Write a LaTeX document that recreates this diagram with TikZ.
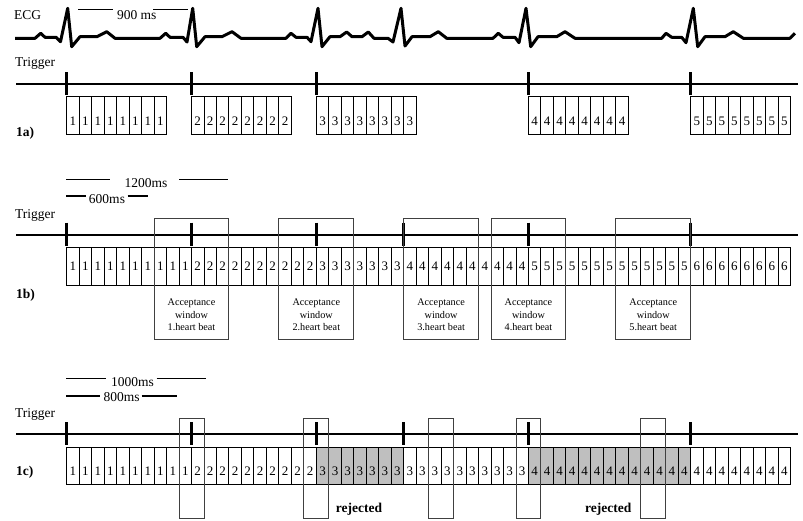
\documentclass[tikz,border=0pt]{standalone}
\usepackage{fontspec}
\setmainfont{Liberation Serif}
\usetikzlibrary{positioning}

\tikzset{
    cell/.style={draw=black, line width=0.9pt},
    tick/.style={line width=3.3pt},
    trigline/.style={line width=1.4pt},
    winbox/.style={draw=black!75, line width=0.9pt},
    bar/.style={line width=1.4pt},
    lbl/.style={font=\fontsize{13.5}{15}\selectfont, inner sep=0pt},
    digit/.style={font=\fontsize{13}{15}\selectfont, inner sep=0pt},
    wintext/.style={font=\fontsize{10.2}{12.3}\selectfont, align=center, inner sep=0pt},
}

\newcommand{\cw}{12.48}
\newcommand{\xo}{66.7}

\begin{document}
\begin{tikzpicture}[x=1pt, y=-1pt]
    \useasboundingbox (0,0) rectangle (803,521);

    % ECG
    \node[lbl, anchor=west] (ecg) at (14,15) {ECG};
    \draw[line width=3pt, line join=round] (15,38.3) -- (35,38.3) -- (40.7,33.3) -- (45,37.3) -- (56,37.3) -- (60.5,41.7)
        -- (67.7,8.3) -- (71.7,46.7) -- (80,36.7) -- (97,36.7) -- (106.7,31.7) -- (115,38.3) -- (160,38.3)
        -- (165.7,33.3) -- (170,37.3) -- (183,37.3) -- (187,42) -- (192.7,8.3) -- (196.7,46.7) -- (205,36.7)
        -- (222,36.7) -- (232,31.7) -- (241,38.3) -- (286,38.3) -- (291,33.3) -- (296,37.3) -- (307,37.3)
        -- (311,41.7) -- (318,8.3) -- (322,46.7) -- (330,36.7) -- (340,36.7) -- (346.7,32) -- (352,36.7)
        -- (362,36.7) -- (368.3,32) -- (374,38.3) -- (388,38.3) -- (393,42) -- (401,8.3) -- (405,46)
        -- (412,36.7) -- (430,36.7) -- (438.3,31.7) -- (446.7,38.3) -- (493,38.3) -- (498.3,33.3) -- (503,37.3)
        -- (515,37.3) -- (519,42.7) -- (526,8.3) -- (530.7,46.7) -- (538,36.7) -- (556.7,36.7) -- (565,31.7)
        -- (575,38.3) -- (661.7,38.3) -- (666,33.3) -- (671.7,37.3) -- (681.7,37.3) -- (686,42.7) -- (693.3,8.3)
        -- (697.7,46.7) -- (705,36.7) -- (725,36.7) -- (733.3,31.7) -- (743.3,38.3) -- (790,38.3) -- (795,33.3);
    \node[lbl] (t900) at (136.7,15) {900 ms};
    \draw[bar] (78.3,9.3) -- (113.3,9.3);
    \draw[bar] (153,9.3) -- (188,9.3);

    % 1a) Trigger line
    \node[lbl, anchor=west] (trigA) at (15,63) {Trigger};
    \draw[trigline] (16,84) -- (798,84);
    \foreach \k in {0,10,20,37,50}
        \draw[tick] ({\xo+\cw*\k},72.3) -- ({\xo+\cw*\k},95);

    % 1a) Acquisitions
    \foreach \k/\d in {0/1,10/2,20/3,37/4,50/5} {
        \foreach \i in {0,...,7} {
            \pgfmathsetmacro\xx{\xo+\cw*(\k+\i)}
            \draw[cell] (\xx,96.7) rectangle +(\cw,37.3);
            \node[digit] (a-\d-\i) at ({\xx+\cw/2},121) {\d};
        }
    }
    \node[lbl, anchor=west] (rowA) at (16,133) {\textbf{1a)}};

    % 1b) Scale
    \node[lbl] (t1200) at (146,182.7) {1200ms};
    \draw[bar] (66,179.3) -- (110,179.3);
    \draw[bar] (179,179.3) -- (228.3,179.3);
    \node[lbl] (t600) at (107,199) {600ms};
    \draw[bar] (66,196) -- (86,196);
    \draw[bar] (127.7,196) -- (148.3,196);

    % 1b) Trigger line
    \node[lbl, anchor=west] (trigB) at (15,215) {Trigger};
    \draw[trigline] (16,235) -- (798,235);
    \foreach \k in {0,10,20,27,37,50}
        \draw[tick] ({\xo+\cw*\k},222.7) -- ({\xo+\cw*\k},246);

    % 1b) Acquisitions
    \foreach \a/\n/\d in {0/10/1,10/10/2,20/7/3,27/10/4,37/13/5,50/8/6} {
        \foreach \i in {1,...,\n} {
            \pgfmathsetmacro\xx{\xo+\cw*(\a+\i-1)}
            \draw[cell] (\xx,247.7) rectangle +(\cw,37.3);
            \node[digit] (b-\a-\i) at ({\xx+\cw/2},266.3) {\d};
        }
    }
    \node[lbl, anchor=west] (rowB) at (16,295) {\textbf{1b)}};

    % 1b) Acceptance windows
    \foreach \k/\m in {7/1,17/2,27/3,34/4,44/5} {
        \pgfmathsetmacro\xx{\xo+\cw*\k}
        \draw[winbox] (\xx,218.3) rectangle +({6*\cw},121);
        \node[wintext] (win-\m) at ({\xx+3*\cw},315) {Acceptance\\window\\\m.heart beat};
    }

    % 1c) Scale
    \node[lbl] (t1000) at (132.5,381.7) {1000ms};
    \draw[bar] (66,378.3) -- (106,378.3);
    \draw[bar] (156.7,378.3) -- (206,378.3);
    \node[lbl] (t800) at (121.7,397) {800ms};
    \draw[bar] (66,396) -- (100,396);
    \draw[bar] (141.7,396) -- (176.7,396);

    % 1c) Trigger line
    \node[lbl, anchor=west] (trigC) at (15,414) {Trigger};
    \draw[trigline] (16,434) -- (798,434);
    \foreach \k in {0,10,20,27,37,50}
        \draw[tick] ({\xo+\cw*\k},422.3) -- ({\xo+\cw*\k},445);

    % 1c) Acquisitions, grey = rejected
    \foreach \a/\n/\d/\f in {0/10/1/white,10/10/2/white,20/7/3/black!25,27/10/3/white,37/13/4/black!25,50/8/4/white} {
        \foreach \i in {1,...,\n} {
            \pgfmathsetmacro\xx{\xo+\cw*(\a+\i-1)}
            \draw[cell, fill=\f] (\xx,447) rectangle +(\cw,37);
            \node[digit] (c-\a-\i) at ({\xx+\cw/2},471) {\d};
        }
    }
    \node[lbl, anchor=west] (rowC) at (16,472) {\textbf{1c)}};

    % 1c) Acceptance windows
    \foreach \k in {9,19,29,36,46}
        \draw[winbox] ({\xo+\cw*\k},418.7) rectangle +({2*\cw},99.6);
    \node[lbl] (rej1) at (359,509) {\textbf{rejected}};
    \node[lbl] (rej2) at (608.3,509) {\textbf{rejected}};
\end{tikzpicture}
\end{document}
